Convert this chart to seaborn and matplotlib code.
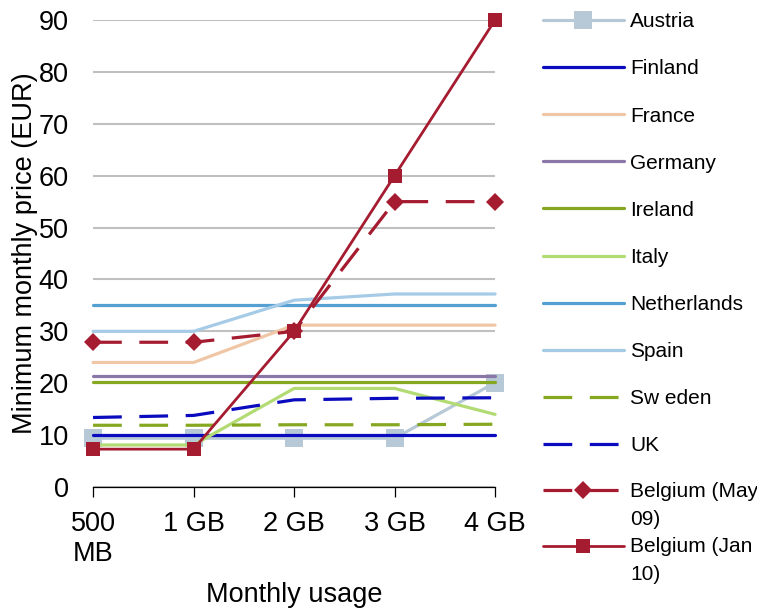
import numpy as np
import pandas as pd
import matplotlib
matplotlib.use('Agg')
import matplotlib.pyplot as plt
from matplotlib.legend_handler import HandlerLine2D
import seaborn as sns

# ── data ──────────────────────────────────────────────────────────────────
USAGE = ['500\nMB', '1 GB', '2 GB', '3 GB', '4 GB']

austria     = [9.4, 9.4, 9.4, 9.4, 20.1]
finland     = [10.0, 10.0, 10.0, 10.0, 10.0]
france      = [24.0, 24.0, 31.2, 31.2, 31.2]
germany     = [21.3, 21.3, 21.3, 21.3, 21.3]
ireland     = [20.2, 20.2, 20.2, 20.2, 20.2]
italy       = [8.1, 8.1, 19.0, 19.0, 14.0]
netherlands = [35.0, 35.0, 35.0, 35.0, 35.0]
spain       = [30.0, 30.0, 36.0, 37.2, 37.2]
sweden      = [11.9, 11.9, 12.0, 12.0, 12.1]
uk          = [13.4, 13.8, 16.8, 17.1, 17.2]
belgium_may = [27.9, 27.9, 30.0, 55.0, 55.0]
belgium_jan = [7.3, 7.3, 30.0, 60.0, 90.0]

SERIES = ['Austria', 'Finland', 'France', 'Germany', 'Ireland', 'Italy',
          'Netherlands', 'Spain', 'Sw eden', 'UK',
          'Belgium (May\n09)', 'Belgium (Jan\n10)']
VALUES = [austria, finland, france, germany, ireland, italy,
          netherlands, spain, sweden, uk, belgium_may, belgium_jan]

COLORS = ['#B7C9D7', '#0A0ABE', '#EFC7A6', '#8B76A8', '#86A821', '#B3DB74',
          '#55A0D3', '#A6CBE6', '#86A821', '#0A0ABE', '#A51B30', '#A51B30']

df = pd.DataFrame({
    'usage': np.tile(USAGE, len(SERIES)),
    'price': np.concatenate(VALUES),
    'country': np.repeat(SERIES, len(USAGE)),
})

DASH = (0, (9, 5.5))
style = {
    'Sw eden': dict(linestyle=DASH),
    'UK': dict(linestyle=DASH),
    'Austria': dict(marker='s', markersize=13, markeredgewidth=0),
    'Belgium (May\n09)': dict(linestyle=DASH, marker='D', markersize=9.5, markeredgewidth=0),
    'Belgium (Jan\n10)': dict(marker='s', markersize=9.5, markeredgewidth=0, linewidth=2.0),
}


# legend handle lined up with the first line of a two-line label
class FirstLineHandler(HandlerLine2D):
    def create_artists(self, legend, orig_handle, xdescent, ydescent,
                       width, height, fontsize, trans):
        arts = super().create_artists(legend, orig_handle, xdescent, ydescent,
                                      width, height, fontsize, trans)
        for a in arts:
            a.set_ydata(np.asarray(a.get_ydata(), dtype=float) + 0.72 * fontsize)
        return arts


# ── plot ──────────────────────────────────────────────────────────────────
sns.set_style('white')
plt.rcParams['font.family'] = ['Liberation Sans', 'DejaVu Sans']
plt.rcParams['text.color'] = 'black'
plt.rcParams['axes.labelcolor'] = 'black'
plt.rcParams['xtick.color'] = 'black'
plt.rcParams['ytick.color'] = 'black'

fig = plt.figure(figsize=(7.57, 6.14), dpi=100)
ax = fig.add_axes([0.1229, 0.2068, 0.654 - 0.1229, 0.9674 - 0.2068])

ax.yaxis.grid(True, color='#C0C0C0', linewidth=1.5, zorder=0)
ax.set_axisbelow(True)

for name, color in zip(SERIES, COLORS):
    kw = dict(linewidth=2.3)
    kw.update(style.get(name, {}))
    sns.lineplot(data=df[df['country'] == name], x='usage', y='price',
                 color=color, label=name, sort=False, ax=ax, clip_on=False, **kw)

ax.set_ylim(0, 90)
ax.set_xlim(0, 4)
ax.set_yticks(np.arange(0, 91, 10))

for s in ['top', 'right', 'left']:
    ax.spines[s].set_visible(False)
ax.spines['bottom'].set_color('#000000')
ax.spines['bottom'].set_linewidth(0.9)
ax.tick_params(axis='x', bottom=True, direction='out', length=7, width=0.9,
               color='#000000', labelsize=19.5, pad=10)
ax.tick_params(axis='y', left=False, labelsize=19.5, pad=14)

ax.set_xlabel('Monthly usage', fontsize=19.5, labelpad=11)
ax.set_ylabel('Minimum monthly price (EUR)', fontsize=19.5, labelpad=0)

handles, labels = ax.get_legend_handles_labels()
leg_kw = dict(loc='upper left', bbox_transform=fig.transFigure, frameon=False,
              fontsize=15, handlelength=3.9, handletextpad=0.3,
              borderpad=0, borderaxespad=0)
leg1 = ax.legend(handles[:10], labels[:10], bbox_to_anchor=(0.717, 0.980),
                 labelspacing=1.35, **leg_kw)
ax.add_artist(leg1)
leg2 = ax.legend(handles[10:], labels[10:], bbox_to_anchor=(0.717, 0.2155),
                 labelspacing=0.42,
                 handler_map={h: FirstLineHandler() for h in handles[10:]},
                 **leg_kw)
for t in leg2.get_texts():
    t.set_linespacing(1.6)

plt.savefig('out.png', dpi=100)
plt.close()
